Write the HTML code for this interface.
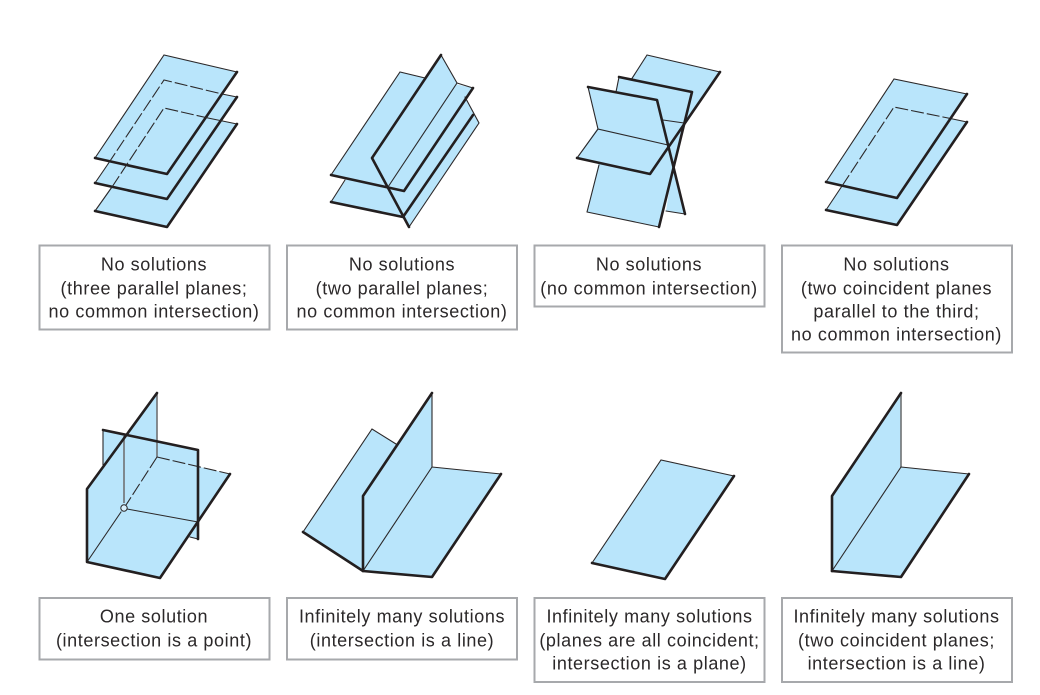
<!DOCTYPE html>
<html lang="en">
<head>
<meta charset="utf-8">
<title>Linear systems in three unknowns: plane configurations</title>
<style>
  html,body{margin:0;padding:0;background:#fff;}
  body{width:1040px;height:695px;overflow:hidden;}
  svg{display:block;}
  .f{fill:#b9e5fb;stroke:none;}
  .thin{stroke:#2b2829;stroke-width:1.1;fill:none;stroke-linecap:round;}
  .thick{stroke:#231f20;stroke-width:2.6;fill:none;stroke-linecap:round;stroke-linejoin:round;}
  .dash{stroke:#2b2829;stroke-width:1.1;fill:none;stroke-dasharray:13 3;}
  .gray{stroke:#6f7173;stroke-width:1.6;fill:none;}
  .box{fill:#fff;stroke:#a7a9ac;stroke-width:2;}
  text{font-family:"Liberation Sans",sans-serif;font-size:18px;letter-spacing:.6px;fill:#2b2829;text-anchor:middle;}
</style>
</head>
<body>
<svg width="1040" height="695" viewBox="0 0 1040 695" xmlns="http://www.w3.org/2000/svg">

  <g>
    <polygon class="f" points="164,108 237,124 167,227 95,211"/>
    <polygon class="f" points="164,80 237,97 167,199 95,183"/>
    <polygon class="f" points="164,55 237,72 167,174 95,158"/>
    <path class="thin" d="M95,158L164,55L237,72"/>
    <path class="thick" d="M95,158L167,174L237,72"/>
    <path class="dash" d="M108,164L164,80L222,94"/>
    <path class="thin" d="M222,94L237,97M95,183L108,164"/>
    <path class="thick" d="M95,183L167,199L237,97"/>
    <path class="dash" d="M112,187L164,108L208,118"/>
    <path class="thin" d="M208,118L237,124M95,211L112,187"/>
    <path class="thick" d="M95,211L167,227L237,124"/>
  </g>

  <g>
    <polygon class="f" points="331,202 403,217 473,115 400,100"/>
    <polygon class="f" points="441,55 479,123 409,227 372,158"/>
    <polygon class="f" points="400,72 473,88 404,191 331,175"/>
    <polygon class="f" points="441,55 457,83 388,187 372,158"/>
    <path class="thin" d="M331,175L400,72L425,78M457,83L473,88M331,202L345,180M441,55L457,83L388,187M465,97L479,123L409,227"/>
    <path class="thick" d="M331,175L404,191L473,88"/>
    <path class="thick" d="M331,202L403,217L473,115"/>
    <path class="thick" d="M441,55L372,158L409,227"/>
  </g>

  <g>
    <polygon class="f" points="647,55 720,72 650,174 577,158"/>
    <polygon class="f" points="619,77 692,92 659,227 587,212"/>
    <polygon class="f" points="666,211 685,214 673,165"/>
    <polygon class="f" points="588,87 657,100 668,145 598,129"/>
    <path class="thin" d="M647,55L720,72M647,55L631,80M619,77L616,92M587,212L599,165M587,212L659,227M666,211L685,214M588,87L598,129L668,145M577,158L598,129M663,120L684,123"/>
    <path class="thick" d="M720,72L650,174L577,158"/>
    <path class="thick" d="M619,77L692,92L659,227"/>
    <path class="thick" d="M588,87L657,100L685,214"/>
  </g>

  <g>
    <polygon class="f" points="894,107 967,122 897,225 826,210"/>
    <polygon class="f" points="894,79 967,94 897,198 826,182"/>
    <path class="thin" d="M826,182L894,79L967,94M948,118L967,122M826,210L842,186"/>
    <path class="thick" d="M826,182L897,198L967,94"/>
    <path class="dash" d="M842,186L894,107L948,118"/>
    <path class="thick" d="M826,210L897,225L967,122"/>
  </g>

  <g>
    <polygon class="f" points="103,430 198,450 198,539 103,520"/>
    <polygon class="f" points="157,393 157,457 124,508 87,562 87,489"/>
    <polygon class="f" points="157,457 230,474 160,578 87,562"/>
    <path class="gray" d="M157,393V457M124,436V503"/>
    <path class="thin" d="M103,430V465M87,562L121,512M127,509L198,522M190,537L198,539"/>
    <path class="dash" d="M157,457L230,474M157,457L126,505"/>
    <path class="thick" d="M103,430L198,450V539"/>
    <path class="thick" d="M230,474L160,578L87,562V489L157,393"/>
    <circle cx="124" cy="508" r="3.2" fill="#d8f0fc" stroke="#2b2829" stroke-width="1"/>
  </g>

  <g>
    <polygon class="f" points="372,429 396,444 363,571 303,532"/>
    <polygon class="f" points="432,393 432,467 363,571 363,496"/>
    <polygon class="f" points="432,467 501,474 432,577 363,571"/>
    <path class="thin" d="M303,532L372,429L396,444M432,393V467L363,571M432,467L501,474"/>
    <path class="thick" d="M303,532L363,571L432,577L501,474"/>
    <path class="thick" d="M432,393L363,496V571"/>
  </g>

  <g>
    <polygon class="f" points="661,460 734,476 665,579 592,563"/>
    <path class="thin" d="M592,563L661,460L734,476"/>
    <path class="thick" d="M592,563L665,579L734,476"/>
  </g>

  <g>
    <polygon class="f" points="901,393 901,467 832,571 832,496"/>
    <polygon class="f" points="901,467 969,474 901,577 832,571"/>
    <path class="gray" d="M901,393V467"/>
    <path class="thin" d="M901,467L832,571M901,467L969,474"/>
    <path class="thick" d="M832,571L901,577L969,474"/>
    <path class="thick" d="M901,393L832,496V571"/>
  </g>

  <g>
    <rect class="box" x="39.5" y="245.5" width="230" height="84"/>
    <text x="154" y="270.5">No solutions</text>
    <text x="154" y="294.5">(three parallel planes;</text>
    <text x="154" y="317.5">no common intersection)</text>
  </g>
  <g>
    <rect class="box" x="287" y="245.5" width="230" height="84"/>
    <text x="402" y="270.5">No solutions</text>
    <text x="402" y="294.5">(two parallel planes;</text>
    <text x="402" y="317.5">no common intersection)</text>
  </g>
  <g>
    <rect class="box" x="534.5" y="245.5" width="230" height="61"/>
    <text x="649" y="270.5">No solutions</text>
    <text x="649" y="294.5">(no common intersection)</text>
  </g>
  <g>
    <rect class="box" x="782" y="245.5" width="230" height="107"/>
    <text x="896.5" y="270.5">No solutions</text>
    <text x="896.5" y="294.5">(two coincident planes</text>
    <text x="896.5" y="317.5">parallel to the third;</text>
    <text x="896.5" y="340.5">no common intersection)</text>
  </g>
  <g>
    <rect class="box" x="39.5" y="598" width="230" height="61.5"/>
    <text x="154" y="622.5">One solution</text>
    <text x="154" y="646.5">(intersection is a point)</text>
  </g>
  <g>
    <rect class="box" x="287" y="598" width="230" height="61.5"/>
    <text x="402" y="622.5">Infinitely many solutions</text>
    <text x="402" y="646.5">(intersection is a line)</text>
  </g>
  <g>
    <rect class="box" x="534.5" y="598" width="230" height="84"/>
    <text x="649.5" y="622.5">Infinitely many solutions</text>
    <text x="649.5" y="646.5">(planes are all coincident;</text>
    <text x="649.5" y="669.5">intersection is a plane)</text>
  </g>
  <g>
    <rect class="box" x="782" y="598" width="230" height="84"/>
    <text x="896.5" y="622.5">Infinitely many solutions</text>
    <text x="896.5" y="646.5">(two coincident planes;</text>
    <text x="896.5" y="669.5">intersection is a line)</text>
  </g>
</svg>
</body>
</html>
